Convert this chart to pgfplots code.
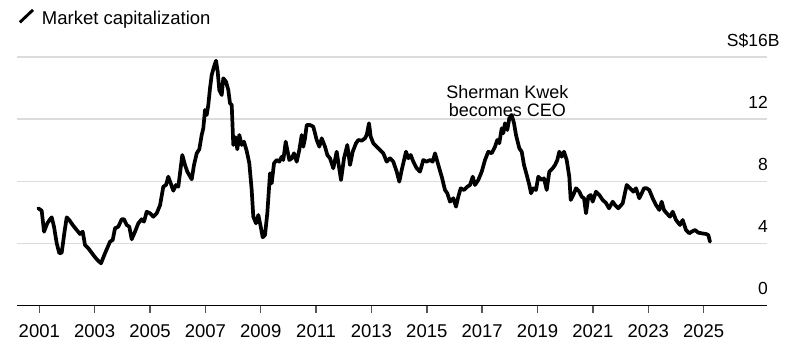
\documentclass[border=0pt]{standalone}
\usepackage{pgfplots}
\pgfplotsset{compat=1.18}
\usepackage{fontspec}
\setmainfont{Liberation Sans}
\definecolor{gridgray}{HTML}{DCDCDC}
\definecolor{tickgray}{HTML}{555555}
\begin{document}
\begin{tikzpicture}
\path[use as bounding box] (-17pt,-51.5pt) rectangle (775pt,305.5pt);
\begin{axis}[
  at={(0pt,0pt)}, anchor=south west,
  scale only axis, width=750pt, height=248.5pt,
  xmin=2000.194, xmax=2027.29, ymin=0, ymax=16,
  clip=false,
  axis x line*=bottom, axis y line*=right,
  y axis line style={draw=none},
  x axis line style={black, line width=1.6pt},
  xtick={2001,2003,...,2025},
  xticklabel style={/pgf/number format/1000 sep={}, anchor=base, yshift=-25pt, font=\fontsize{18.5}{21}\selectfont},
  xtick style={tickgray, line width=1.4pt},
  tick align=outside, major tick length=7pt,
  ytick={0,4,8,12,16},
  yticklabels={0,4,8,12,{S\$16\rlap{B}}},
  ytick style={draw=none},
  yticklabel style={anchor=base east, inner sep=0pt, xshift=-6pt, yshift=11pt, font=\fontsize{17.5}{20}\selectfont},
  ymajorgrids, grid style={gridgray, line width=1.5pt},
  /pgf/number format/assume math mode=true,
  legend style={draw=none, fill=none, at={(axis description cs:0,1)}, anchor=south west, yshift=29pt, xshift=0pt, inner sep=0pt, font=\fontsize{18.5}{21}\selectfont},
  legend cell align=left,
  legend image code/.code={\path (0pt,0pt) (19pt,0pt); \draw[line width=2.9pt, black, line cap=butt] (0.8pt,-4pt) -- (14pt,8.5pt);},
]
\addplot[black, line width=3.7pt, line join=round, line cap=round] table[x=year, y=cap] {
year cap
2000.964 6.259
2001.087 6.104
2001.170 4.752
2001.289 5.293
2001.387 5.551
2001.448 5.679
2001.531 5.074
2001.629 4.005
2001.723 3.361
2001.809 3.400
2001.903 4.649
2001.990 5.679
2002.084 5.505
2002.207 5.183
2002.351 4.862
2002.470 4.604
2002.568 4.752
2002.651 3.896
2002.770 3.683
2002.951 3.252
2003.074 2.975
2003.229 2.717
2003.374 3.361
2003.554 4.108
2003.652 4.218
2003.735 4.971
2003.854 5.074
2003.977 5.551
2004.060 5.551
2004.157 5.183
2004.251 5.074
2004.338 4.263
2004.457 4.752
2004.577 5.293
2004.699 5.551
2004.783 5.396
2004.880 6.040
2004.999 5.937
2005.118 5.718
2005.241 5.937
2005.361 6.450
2005.480 7.650
2005.577 7.759
2005.660 8.294
2005.747 7.869
2005.841 7.392
2005.939 7.759
2006.022 7.650
2006.083 8.512
2006.166 9.691
2006.264 9.047
2006.347 8.616
2006.506 8.126
2006.589 9.047
2006.687 9.800
2006.780 10.058
2006.867 10.979
2006.925 11.410
2006.986 12.588
2007.048 12.266
2007.105 12.910
2007.167 13.986
2007.228 14.842
2007.312 15.377
2007.384 15.763
2007.445 15.055
2007.503 13.876
2007.590 13.554
2007.647 14.630
2007.745 14.411
2007.828 13.876
2007.889 13.020
2007.951 12.910
2008.009 10.335
2008.095 10.831
2008.153 10.058
2008.225 10.979
2008.312 10.335
2008.395 10.547
2008.493 9.948
2008.587 9.156
2008.673 7.437
2008.731 5.718
2008.829 5.293
2008.912 5.827
2008.999 5.074
2009.071 4.391
2009.154 4.540
2009.237 5.937
2009.335 8.512
2009.396 7.869
2009.479 9.156
2009.577 9.369
2009.671 9.260
2009.757 9.581
2009.815 9.369
2009.902 10.547
2009.960 10.013
2010.032 9.369
2010.119 9.478
2010.202 9.800
2010.299 9.260
2010.393 10.013
2010.480 10.979
2010.538 10.225
2010.599 10.766
2010.661 11.623
2010.780 11.623
2010.899 11.513
2011.022 10.657
2011.116 10.225
2011.202 10.766
2011.322 10.225
2011.405 9.691
2011.502 9.478
2011.621 8.834
2011.744 9.903
2011.827 8.937
2011.900 8.081
2012.008 9.478
2012.127 10.335
2012.225 9.047
2012.322 9.903
2012.441 10.444
2012.525 10.657
2012.648 10.612
2012.767 10.766
2012.828 10.979
2012.911 11.732
2012.973 10.869
2013.067 10.444
2013.189 10.225
2013.308 10.013
2013.428 9.800
2013.551 9.260
2013.670 9.478
2013.789 9.260
2013.912 8.616
2014.006 7.972
2014.093 8.725
2014.248 9.903
2014.331 9.478
2014.418 9.691
2014.512 9.260
2014.635 8.834
2014.754 8.616
2014.873 9.369
2014.996 9.260
2015.115 9.369
2015.212 9.260
2015.296 9.800
2015.415 9.047
2015.538 8.294
2015.657 7.437
2015.740 7.225
2015.837 6.684
2015.957 6.903
2016.054 6.362
2016.137 7.006
2016.224 7.547
2016.343 7.437
2016.463 7.650
2016.560 7.759
2016.658 8.294
2016.741 7.759
2016.860 8.081
2016.983 8.616
2017.102 9.369
2017.221 9.903
2017.344 9.800
2017.463 10.225
2017.546 10.657
2017.618 10.444
2017.705 11.410
2017.763 11.088
2017.824 11.732
2017.908 11.301
2017.980 12.054
2018.067 12.266
2018.150 11.732
2018.222 10.979
2018.341 10.122
2018.428 9.903
2018.511 9.047
2018.609 8.403
2018.703 7.759
2018.764 7.225
2018.847 7.547
2018.944 7.437
2019.027 8.294
2019.150 8.081
2019.233 8.191
2019.331 7.437
2019.424 8.616
2019.547 8.834
2019.631 9.047
2019.714 9.369
2019.786 9.903
2019.873 9.581
2019.956 9.903
2020.053 9.369
2020.147 8.294
2020.198 6.793
2020.292 7.115
2020.390 7.547
2020.509 7.328
2020.596 7.006
2020.679 6.903
2020.751 5.937
2020.834 7.006
2020.921 7.115
2020.993 6.684
2021.112 7.328
2021.231 7.115
2021.354 6.793
2021.474 6.600
2021.582 6.259
2021.715 6.684
2021.799 6.471
2021.918 6.259
2022.077 6.581
2022.221 7.759
2022.341 7.547
2022.460 7.328
2022.557 7.547
2022.676 6.903
2022.763 7.225
2022.846 7.547
2022.944 7.547
2023.037 7.437
2023.160 6.903
2023.279 6.471
2023.399 6.149
2023.485 6.684
2023.568 6.149
2023.666 5.937
2023.785 5.718
2023.883 6.040
2024.002 5.505
2024.147 5.183
2024.244 5.505
2024.363 4.862
2024.483 4.649
2024.570 4.752
2024.689 4.862
2024.808 4.688
2024.931 4.649
2025.086 4.604
2025.169 4.540
2025.230 4.108
};
\addlegendentry{Market capitalization}
\node[anchor=base, inner sep=0pt, font=\fontsize{18}{21}\selectfont] at (axis cs:2017.91,13.34) {Sherman Kwek};
\node[anchor=base, inner sep=0pt, font=\fontsize{18}{21}\selectfont] at (axis cs:2017.91,12.14) {becomes CEO};
\end{axis}
\end{tikzpicture}
\end{document}
